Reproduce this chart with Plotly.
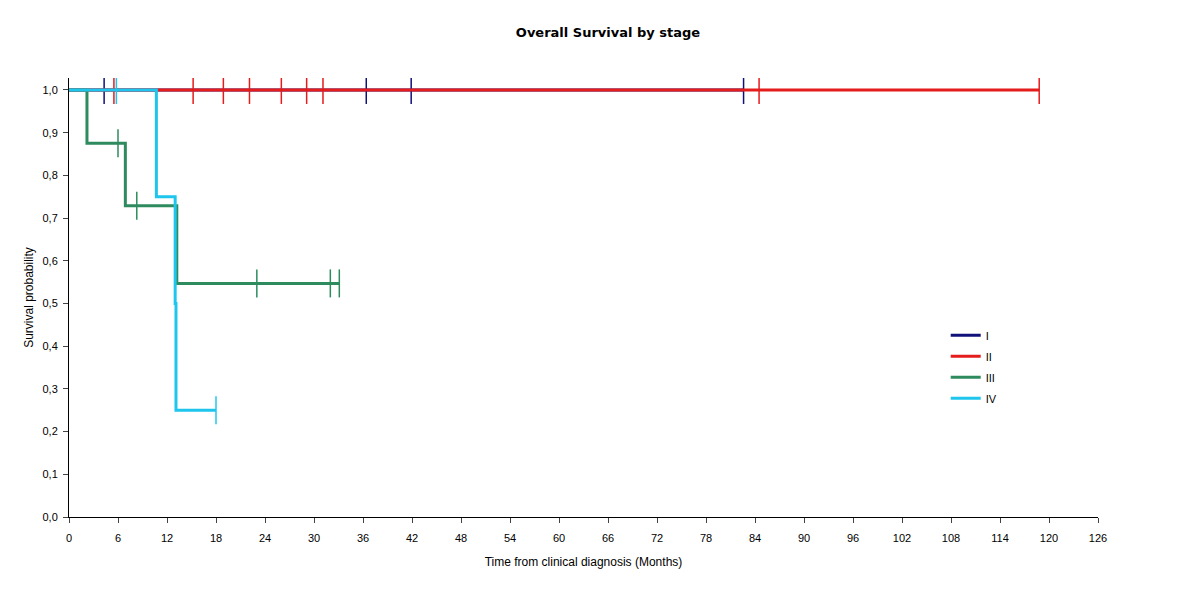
import plotly.graph_objects as go

# Kaplan-Meier step points per stage (months, survival)
stage_names = ["I", "II", "III", "IV"]
colors = ["#10107a", "#e41c1c", "#2e8b5e", "#1ec6ee"]

time_I = [0, 82.6]
surv_I = [1.0, 1.0]
cens_I = [4.3, 36.4, 41.9, 82.6]

time_II = [0, 118.8]
surv_II = [1.0, 1.0]
cens_II = [5.5, 15.2, 18.9, 22.1, 26.0, 29.1, 31.1, 84.5, 118.8]

time_III = [0, 2.2, 6.9, 13.2, 33.1]
surv_III = [1.0, 0.875, 0.729, 0.547, 0.547]
cens_III = [6.0, 8.3, 23.0, 32.0, 33.1]

time_IV = [0, 10.7, 13.0, 13.1, 18.0]
surv_IV = [1.0, 0.75, 0.5, 0.25, 0.25]
cens_IV = [5.8, 18.0]

x_ticks = list(range(0, 127, 6))
y_ticks = [i / 10 for i in range(11)]


def surv_at(t, times, surv):
    s = surv[0]
    for tt, ss in zip(times, surv):
        if tt <= t:
            s = ss
    return s


fig = go.Figure()
series = [(time_I, surv_I, cens_I), (time_II, surv_II, cens_II),
          (time_III, surv_III, cens_III), (time_IV, surv_IV, cens_IV)]

for name, col, (t, s, c) in zip(stage_names, colors, series):
    fig.add_trace(go.Scatter(
        x=t, y=s, mode="lines", name=name, legendgroup=name,
        line=dict(color=col, width=3, shape="hv"),
    ))
    fig.add_trace(go.Scatter(
        x=c, y=[surv_at(v, t, s) for v in c], mode="markers",
        showlegend=False, hoverinfo="skip", legendgroup=name,
        marker=dict(symbol="line-ns", size=20,
                    line=dict(color=col, width=1.5)),
    ))

# the page adds an 8px body margin, so margins are shifted to compensate
fig.update_layout(
    width=1200, height=589,
    paper_bgcolor="white", plot_bgcolor="white",
    margin=dict(l=61, r=110, t=70, b=80),
    separators=",.",
    font=dict(family="Liberation Sans, Arial", size=10, color="black"),
    title=dict(text="<b>Overall Survival by stage</b>", x=0.5, xanchor="center",
               y=0.959, yanchor="middle",
               font=dict(family="DejaVu Sans", size=13, color="black")),
    legend=dict(x=0.852, y=0.447, xanchor="left", yanchor="top",
                bgcolor="rgba(0,0,0,0)", font=dict(size=11),
                itemwidth=30, traceorder="grouped", tracegroupgap=2),
    showlegend=True,
)
fig.update_xaxes(
    range=[0, 126], tickvals=x_ticks, ticks="outside", ticklen=5,
    ticklabelstandoff=6, tickfont=dict(size=11),
    showline=True, linecolor="black", linewidth=1, showgrid=False, zeroline=False,
    title=dict(text="Time from clinical diagnosis (Months)", standoff=14),
)
fig.update_yaxes(
    range=[0, 1.028], tickvals=y_ticks, tickformat=".1f", ticks="outside", ticklen=5,
    ticklabelstandoff=3, tickfont=dict(size=11),
    showline=True, linecolor="black", linewidth=1, showgrid=False, zeroline=False,
    title=dict(text="Survival probability", standoff=6),
)

fig.write_html("out.html")
